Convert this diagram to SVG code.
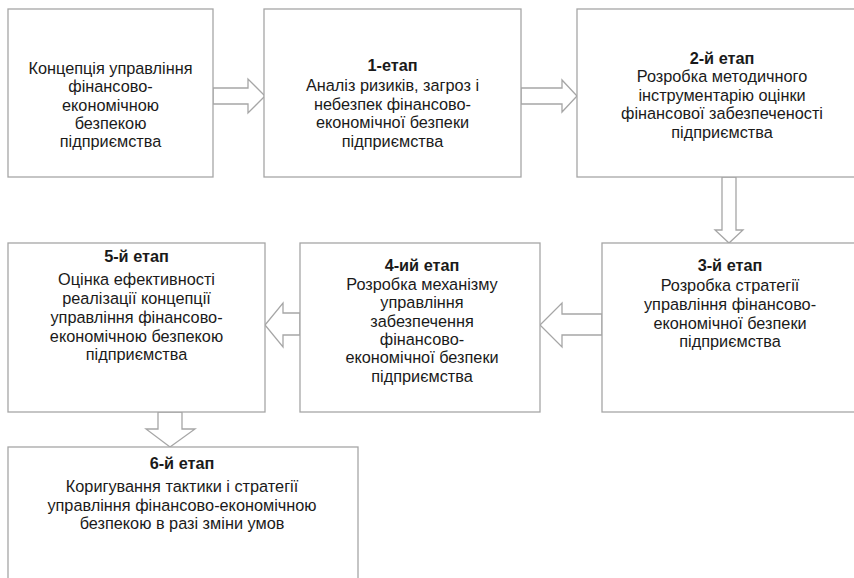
<svg xmlns="http://www.w3.org/2000/svg" width="854" height="578" viewBox="0 0 854 578">
<style>
.box{fill:#fff;stroke:#a6a6a6;stroke-width:1.3}
.arr{fill:#fff;stroke:#a6a6a6;stroke-width:1.3;stroke-linejoin:miter}
text{font-family:"Liberation Sans",Arial,sans-serif;font-size:16.3px;fill:#1a1a1a;text-anchor:middle}
.b{font-weight:bold}
</style>
<rect width="854" height="578" fill="#fff"/>
<g id="connectors">
<polygon class="arr" points="213,88 248,88 248,79 265,96 248,113 248,104 213,104"/>
<polygon class="arr" points="521,88 562,88 562,80 577,96 562,112 562,104 521,104"/>
<polygon class="arr" points="722,177 722,230 715,230 729,243 743,230 736,230 736,177"/>
<polygon class="arr" points="602,314 562,314 562,303 540,325 562,347 562,335 602,335"/>
<polygon class="arr" points="300,313 283,313 283,303 265,325 283,347 283,335 300,335"/>
<polygon class="arr" points="158,412 158,429 146,429 170,447 195,429 182,429 182,412"/>
</g>
<g id="node0">
<rect class="box" x="8" y="9" width="205" height="168"/>
<text x="110.5" y="74">Концепція управління</text>
<text x="110.5" y="92.3">фінансово-</text>
<text x="110.5" y="110.6">економічною</text>
<text x="110.5" y="129">безпекою</text>
<text x="110.5" y="147.3">підприємства</text>
</g>
<g id="node1">
<rect class="box" x="264" y="9" width="257" height="168"/>
<text class="b" x="392.5" y="71">1-етап</text>
<text x="392.5" y="91">Аналіз ризиків, загроз і</text>
<text x="392.5" y="109.5">небезпек фінансово-</text>
<text x="392.5" y="128">економічної безпеки</text>
<text x="392.5" y="146.5">підприємства</text>
</g>
<g id="node2">
<rect class="box" x="577" y="9" width="290" height="168"/>
<text class="b" x="722" y="63.5">2-й етап</text>
<text x="722" y="82">Розробка методичного</text>
<text x="722" y="100.5">інструментарію оцінки</text>
<text x="722" y="119">фінансової забезпеченості</text>
<text x="722" y="137.5">підприємства</text>
</g>
<g id="node3">
<rect class="box" x="602" y="243" width="265" height="169"/>
<text class="b" x="730" y="271">3-й етап</text>
<text x="730" y="291">Розробка стратегії</text>
<text x="730" y="310">управління фінансово-</text>
<text x="730" y="328.5">економічної безпеки</text>
<text x="730" y="347">підприємства</text>
</g>
<g id="node4">
<rect class="box" x="300" y="243" width="240" height="169"/>
<text class="b" x="422" y="271">4-ий етап</text>
<text x="422" y="290">Розробка механізму</text>
<text x="422" y="308.3">управління</text>
<text x="422" y="326.6">забезпечення</text>
<text x="422" y="344.9">фінансово-</text>
<text x="422" y="363.2">економічної безпеки</text>
<text x="422" y="381.5">підприємства</text>
</g>
<g id="node5">
<rect class="box" x="8" y="243" width="257" height="169"/>
<text class="b" x="136.5" y="262">5-й етап</text>
<text x="136.5" y="285">Оцінка ефективності</text>
<text x="136.5" y="304">реалізації концепції</text>
<text x="136.5" y="322.7">управління фінансово-</text>
<text x="136.5" y="341.5">економічною безпекою</text>
<text x="136.5" y="360">підприємства</text>
</g>
<g id="node6">
<rect class="box" x="8" y="447" width="350" height="150"/>
<text class="b" x="182" y="469">6-й етап</text>
<text x="182" y="492">Коригування тактики і стратегії</text>
<text x="182" y="510.5">управління фінансово-економічною</text>
<text x="182" y="529">безпекою в разі зміни умов</text>
</g>
</svg>
